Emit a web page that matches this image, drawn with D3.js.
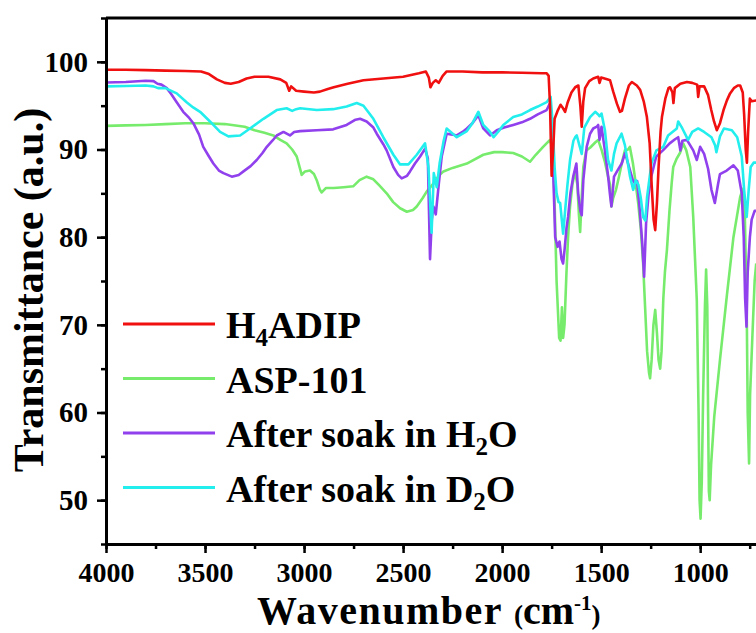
<!DOCTYPE html>
<html>
<head>
<meta charset="utf-8">
<script src="https://cdn.jsdelivr.net/npm/d3@7/dist/d3.min.js"></script>
<style>
  html, body { margin: 0; padding: 0; background: #fff; overflow: hidden; }
  svg { display: block; font-family: "Liberation Serif", "Times New Roman", serif; font-weight: bold; }
</style>
</head>
<body>
<svg id="chart" width="756" height="633"></svg>
<script>
// FTIR spectra: [wavenumber (cm-1), transmittance (a.u.)]
const h4adip = [
  [4000,99.1],[3900,99.1],[3800,99.05],[3700,99.0],[3600,98.95],[3520,98.9],[3480,98.6],[3440,98.0],
  [3400,97.6],[3370,97.5],[3330,97.7],[3290,98.1],[3250,98.3],[3180,98.3],[3120,98.0],[3090,97.6],
  [3075,96.7],[3065,97.2],[3040,96.7],[3000,96.6],[2950,96.5],[2920,96.6],[2880,96.9],[2850,97.1],
  [2780,97.5],[2700,97.9],[2600,98.1],[2500,98.3],[2420,98.7],[2385,98.9],[2370,98.2],[2362,97.1],
  [2350,97.6],[2335,97.9],[2320,97.6],[2300,98.4],[2280,98.9],[2200,98.9],[2100,98.8],[2000,98.8],
  [1900,98.75],[1800,98.7],[1775,98.7],[1765,98.4],[1758,95],[1750,87.0],[1742,90],[1735,93.5],
  [1720,94.4],[1705,95.1],[1695,94.8],[1682,94.3],[1670,95.3],[1650,96.5],[1631,97.1],[1615,97.3],
  [1605,95],[1598,92.6],[1590,95.5],[1581,97.0],[1560,97.8],[1540,98.1],[1515,98.3],[1508,97.6],
  [1500,98.2],[1470,98.0],[1455,97.9],[1439,96.6],[1420,95.2],[1405,94.3],[1395,94.4],[1380,95.8],
  [1360,97.3],[1345,97.7],[1320,97.3],[1303,96.8],[1285,95.5],[1269,93.7],[1255,90.7],[1245,86],
  [1235,82],[1227,80.8],[1218,84],[1210,88.0],[1200,92],[1193,93.7],[1176,95.8],[1160,97.0],
  [1152,97.1],[1140,96.5],[1135,95.3],[1128,97.0],[1100,97.5],[1067,97.7],[1040,97.6],[1015,97.4],
  [1010,96.0],[1003,97.2],[980,97.2],[960,96.2],[944,94.5],[930,93.2],[916,92.2],[900,93.0],
  [882,94.5],[865,95.6],[849,96.4],[830,97.0],[810,97.3],[798,97.3],[785,96.5],[778,94],
  [770,90],[764,88.5],[758,92],[749,95.8],[740,95.5],[717,95.6]
];

const asp101 = [
  [4000,92.7],[3900,92.75],[3800,92.8],[3700,92.9],[3600,93.0],[3500,93.0],[3400,92.9],[3300,92.6],
  [3250,92.2],[3200,91.9],[3155,91.6],[3120,91.1],[3088,90.7],[3060,90.0],[3037,89.2],[3020,87.8],
  [3012,87.1],[2995,87.5],[2970,87.6],[2950,87.2],[2936,86.5],[2920,85.4],[2911,85.1],[2890,85.6],
  [2850,85.6],[2800,85.7],[2752,85.8],[2720,86.5],[2684,86.9],[2650,86.6],[2620,85.9],[2583,85.0],
  [2550,84.0],[2515,83.3],[2481,82.9],[2450,83.1],[2431,83.5],[2400,84.5],[2381,85.2],[2347,86.1],
  [2320,87.0],[2296,87.5],[2250,87.9],[2178,88.4],[2095,89.4],[2040,89.7],[2000,89.7],[1944,89.6],
  [1900,89.2],[1859,88.6],[1830,89.4],[1793,90.3],[1758,91.1],[1745,90.0],[1735,84],[1725,75],
  [1712,68.5],[1705,68.2],[1698,72],[1692,68.5],[1685,70],[1675,76],[1667,80],[1657,83.5],
  [1645,86],[1632,87.5],[1620,86],[1612,82.5],[1606,80.6],[1598,84.6],[1590,88],[1575,89.9],
  [1556,90.2],[1530,90.8],[1515,91.1],[1497,89.9],[1480,88.5],[1465,86.9],[1455,86],[1448,83.5],
  [1439,84.5],[1425,85.4],[1410,86.9],[1395,88.5],[1380,89.9],[1364,90.0],[1355,90.3],[1340,88.5],
  [1330,86.9],[1313,83.9],[1300,81],[1288,77],[1278,72],[1268,67],[1258,64.5],[1253,63.9],
  [1245,66],[1236,70],[1227,71.7],[1218,69],[1210,66],[1202,65.0],[1195,67],[1186,73],
  [1178,76],[1168,78.5],[1155,83],[1144,86.1],[1136,88.0],[1120,88.9],[1102,89.6],[1086,90.7],
  [1070,89.9],[1050,88.0],[1035,82.3],[1017,72.8],[1008,60],[1003,50],[998,47.9],[992,52],
  [985,62],[976,72],[970,76.3],[964,72],[960,60],[956,51],[952,50.0],[945,54],
  [929,59.5],[900,66],[864,73.6],[832,80],[798,84.6],[785,85.5],[775,83],[765,72],
  [760,60],[753,54.2],[748,62],[737,68.3],[725,75],[717,77]
];

const soakH2O = [
  [4000,97.65],[3900,97.7],[3800,97.85],[3760,97.8],[3740,97.5],[3720,97.4],[3693,97.0],[3670,96.3],
  [3643,95.4],[3610,94.3],[3580,93.6],[3559,93.0],[3530,91.7],[3509,90.3],[3480,89.2],[3458,88.4],
  [3430,87.6],[3407,87.3],[3365,86.9],[3330,87.1],[3306,87.5],[3270,88.1],[3239,88.8],[3210,89.6],
  [3188,90.3],[3160,91.0],[3138,91.6],[3104,92.0],[3071,91.6],[3050,92.0],[3020,92.1],[2936,92.2],
  [2853,92.3],[2785,92.8],[2740,93.4],[2717,93.5],[2684,93.2],[2650,92.5],[2633,91.8],[2600,90.6],
  [2583,89.9],[2549,88.0],[2525,87.1],[2507,86.7],[2480,87.0],[2465,87.5],[2440,88.4],[2414,89.2],
  [2389,90.1],[2375,89],[2364,77.5],[2355,82],[2347,83.5],[2335,82.6],[2320,86],[2305,89.2],
  [2280,91.8],[2250,91.7],[2229,91.6],[2200,92.0],[2178,92.4],[2150,93.0],[2120,93.9],[2095,92.4],
  [2061,91.6],[2027,92.2],[1990,92.5],[1944,92.8],[1900,93.1],[1859,93.5],[1820,94.0],[1775,94.5],
  [1758,95.3],[1748,92],[1740,86],[1732,80],[1720,78.9],[1710,79.5],[1700,77.5],[1692,77.0],
  [1685,78.5],[1675,81],[1667,82.3],[1655,85],[1641,86.9],[1625,88.4],[1616,85.0],[1605,83],
  [1598,82.5],[1590,86.5],[1573,90.3],[1556,91.8],[1540,92.4],[1522,92.6],[1515,92.8],[1508,91.1],
  [1498,92.6],[1481,89.9],[1465,87],[1456,85.0],[1448,83.5],[1435,86.9],[1420,87.5],[1396,88.4],
  [1379,89.6],[1354,87.6],[1340,86.5],[1328,86.1],[1318,86.4],[1305,83.1],[1293,79.5],[1283,75.5],
  [1273,81.6],[1260,85],[1247,86.9],[1222,89.2],[1188,89.9],[1154,90.7],[1125,91.2],[1111,91.4],
  [1100,89.9],[1090,91.0],[1067,91.1],[1035,89.9],[1017,88.8],[1000,90.3],[980,89.5],[960,87.8],
  [943,85.4],[926,83.9],[910,86],[900,87.2],[866,87.6],[832,88.2],[810,87.6],[790,85.0],
  [780,80],[773,73],[766,69.8],[760,76],[749,80.0],[740,82],[725,83],[717,83]
];

const soakD2O = [
  [4000,97.2],[3900,97.25],[3800,97.3],[3760,97.2],[3737,97.0],[3700,97.0],[3643,96.4],[3593,95.4],
  [3560,94.8],[3525,94.3],[3475,93.2],[3424,92.0],[3382,91.5],[3323,91.6],[3273,92.4],[3205,93.5],
  [3138,94.5],[3088,94.7],[3060,94.4],[3040,94.6],[3020,94.7],[2936,94.5],[2853,94.6],[2785,94.9],
  [2734,95.3],[2700,95.0],[2650,93.5],[2600,91.4],[2549,89.4],[2515,88.3],[2473,88.3],[2431,89.4],
  [2389,90.7],[2372,88],[2356,80.5],[2345,87.3],[2330,85.7],[2315,88.5],[2295,91],[2280,92.4],
  [2229,91.4],[2178,92.1],[2150,93.0],[2120,94.3],[2095,92.8],[2061,92.0],[2043,91.4],[2010,92.3],
  [1994,92.8],[1944,93.7],[1900,94.0],[1859,94.5],[1820,94.9],[1775,95.4],[1755,96.0],[1745,93],
  [1735,88],[1725,85],[1715,84],[1707,83.9],[1692,80.4],[1680,83.5],[1670,86],[1657,88.8],
  [1640,91.0],[1631,91.4],[1623,91.6],[1610,90.5],[1598,89.5],[1585,92.5],[1556,93.7],[1530,94.3],
  [1515,94.0],[1508,93.8],[1498,94.1],[1481,92.2],[1465,88.8],[1448,87.6],[1435,89.5],[1422,90.7],
  [1397,91.8],[1380,90.5],[1354,86.9],[1338,85.4],[1325,86.5],[1312,86.0],[1300,84.5],[1288,82.3],
  [1277,81.9],[1268,84.6],[1246,88.4],[1221,89.9],[1186,90.3],[1162,91.6],[1118,92.4],[1111,93.2],
  [1090,92.4],[1061,91.1],[1040,92.0],[1010,92.4],[980,92.0],[943,91.4],[925,90.5],[918,89.7],
  [900,91.5],[880,92.4],[840,92.2],[813,91.4],[790,89.2],[778,85.4],[765,82.3],[755,85.4],
  [745,88.0],[730,88.5],[717,88.5]
];

const seriesNames = ["H4ADIP", "ASP-101", "After soak in H2O", "After soak in D2O"];
const seriesData = [h4adip, asp101, soakH2O, soakD2O];
const seriesColors = ["#f01010", "#77ec6c", "#9040ec", "#22eeee"];
const drawOrder = [1, 2, 3, 0];

const xTickValues = [4000, 3500, 3000, 2500, 2000, 1500, 1000];
const xMinorTicks = d3.range(4000, 699, -250);
const yTickValues = [50, 60, 70, 80, 90, 100];
const yMinorTicks = d3.range(45, 105.1, 5);

// layout
const plot = { left: 106, right: 819, top: 18, bottom: 544 };
const svg = d3.select("#chart");

const x = d3.scaleLinear().domain([4000, 400]).range([plot.left, plot.right]);
const y = d3.scaleLinear().domain([45, 105]).range([plot.bottom, plot.top]);

svg.append("defs").append("clipPath").attr("id", "plotClip")
  .append("rect")
  .attr("x", plot.left).attr("y", plot.top)
  .attr("width", plot.right - plot.left).attr("height", plot.bottom - plot.top);

// spectra
const line = d3.line().x(d => x(d[0])).y(d => y(d[1])).curve(d3.curveLinear);
const gLines = svg.append("g").attr("clip-path", "url(#plotClip)");
drawOrder.forEach(i => {
  gLines.append("path")
    .datum(seriesData[i])
    .attr("d", line)
    .attr("fill", "none")
    .attr("stroke", seriesColors[i])
    .attr("stroke-width", 2.6)
    .attr("stroke-linejoin", "round");
});

// frame: top and right edges
svg.append("path")
  .attr("d", `M${plot.left},${plot.top}H${plot.right}V${plot.bottom}`)
  .attr("fill", "none").attr("stroke", "#000").attr("stroke-width", 3);

// minor ticks
const xMinorAxis = d3.axisBottom(x).tickValues(xMinorTicks).tickSize(5).tickFormat("").tickSizeOuter(0);
const yMinorAxis = d3.axisLeft(y).tickValues(yMinorTicks).tickSize(5).tickFormat("").tickSizeOuter(0);
svg.append("g").attr("transform", `translate(0,${plot.bottom})`).call(xMinorAxis)
  .call(g => g.select(".domain").remove())
  .selectAll("line").attr("stroke-width", 2.5);
svg.append("g").attr("transform", `translate(${plot.left},0)`).call(yMinorAxis)
  .call(g => g.select(".domain").remove())
  .selectAll("line").attr("stroke-width", 2.5);

// major axes
const xAxis = d3.axisBottom(x).tickValues(xTickValues).tickFormat(d3.format("d"))
  .tickSize(9).tickPadding(9).tickSizeOuter(0);
const yAxis = d3.axisLeft(y).tickValues(yTickValues).tickFormat(d3.format("d"))
  .tickSize(9).tickPadding(9).tickSizeOuter(0);

const gx = svg.append("g").attr("transform", `translate(0,${plot.bottom})`).call(xAxis);
const gy = svg.append("g").attr("transform", `translate(${plot.left},0)`).call(yAxis);
[gx, gy].forEach(g => {
  g.select(".domain").attr("stroke-width", 3);
  g.selectAll(".tick line").attr("stroke-width", 2.5);
  g.selectAll(".tick text")
    .attr("font-family", "'Liberation Serif', 'Times New Roman', serif")
    .attr("font-weight", "bold")
    .attr("font-size", 29)
    .attr("fill", "#000");
});
gx.selectAll(".tick text").attr("font-size", 28);

// axis titles
svg.append("text")
  .attr("transform", "translate(43,290) rotate(-90)")
  .attr("text-anchor", "middle")
  .attr("font-size", 42)
  .text("Transmittance (a.u.)");

const xt = svg.append("text").attr("x", 257).attr("y", 624).attr("font-size", 40);
xt.append("tspan").attr("letter-spacing", 1.5).text("Wavenumber ");
xt.append("tspan").attr("font-size", 27).text("(");
xt.append("tspan").text("cm");
xt.append("tspan").attr("font-size", 21).attr("dy", -14).text("-1");
xt.append("tspan").attr("font-size", 27).attr("dy", 14).text(")");

// legend
const legend = svg.append("g");
const legendTop = 324, legendStep = 54.5;
seriesNames.forEach((name, i) => {
  const ly = legendTop + i * legendStep;
  legend.append("line")
    .attr("x1", 123).attr("x2", 215).attr("y1", ly).attr("y2", ly)
    .attr("stroke", seriesColors[i]).attr("stroke-width", 3);
  const t = legend.append("text").attr("x", 226).attr("y", ly + 14).attr("font-size", 38);
  // chemical formulas with subscript digits
  const m = name.match(/^(.*?)([A-Z])(\d)(.*)$/);
  if (m) {
    t.append("tspan").text(m[1] + m[2]);
    t.append("tspan").attr("font-size", 25).attr("dy", 8).text(m[3]);
    t.append("tspan").attr("dy", -8).text(m[4]);
  } else {
    t.text(name);
  }
});
</script>
</body>
</html>
